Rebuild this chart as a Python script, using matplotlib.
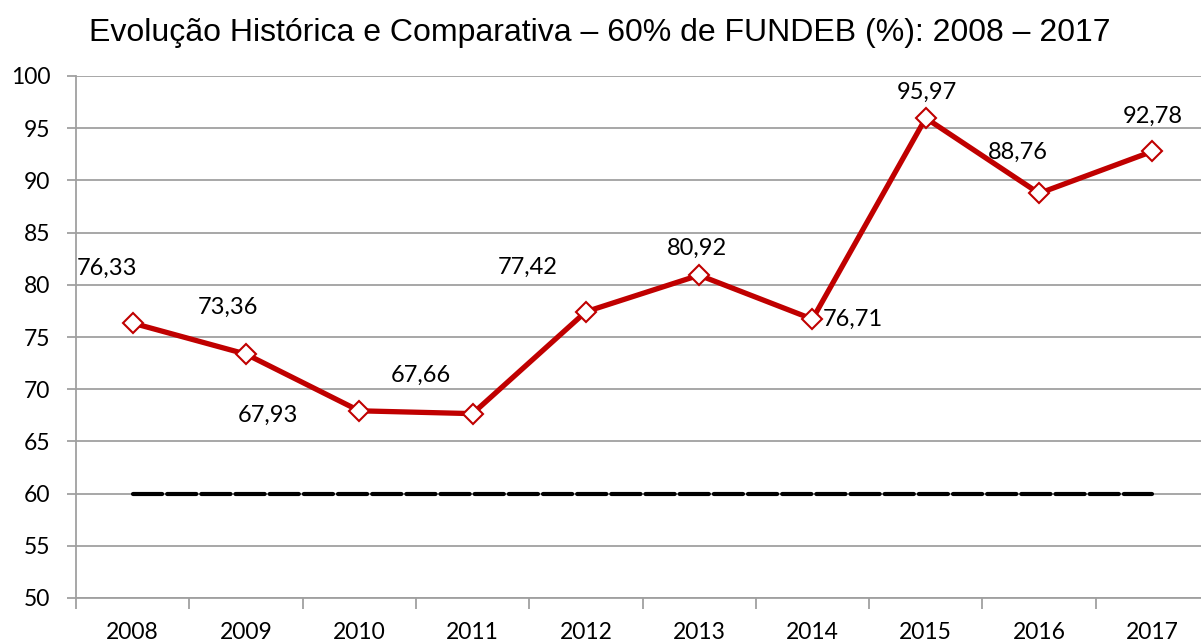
import matplotlib.pyplot as plt
import numpy as np

years = ["2008", "2009", "2010", "2011", "2012", "2013", "2014", "2015", "2016", "2017"]
fundeb = [76.33, 73.36, 67.93, 67.66, 77.42, 80.92, 76.71, 95.97, 88.76, 92.78]
minimo = [60] * len(years)

# label offsets in pixels (dx, dy)
label_offsets = [(-26, 55), (-18, 47), (-91, -5), (-52, 38), (-58, 44),
                 (-2, 27), (40, 0), (1, 26), (-21, 41), (0, 35)]

gray = "#a0a0a0"

fig = plt.figure(figsize=(12.01, 6.42), dpi=100)
ax = fig.add_axes([76 / 1201, 1 - 598 / 642, (1209 - 76) / 1201, (598 - 76) / 642])

xs = np.arange(len(years))
ax.plot(xs, minimo, color="black", lw=3, dashes=(7, 1.2), solid_capstyle="round",
        dash_capstyle="round", zorder=3)
ax.plot(xs, fundeb, color="#c00000", lw=3.8, marker="D", markersize=10,
        markerfacecolor="white", markeredgecolor="#c00000", markeredgewidth=1.5, zorder=4)

for x, v, (dx, dy) in zip(xs, fundeb, label_offsets):
    ax.annotate(f"{v:.2f}".replace(".", ","), (x, v), xytext=(dx, dy),
                textcoords="offset pixels", ha="center", va="center",
                fontsize=17, family="Lato")

ax.set_xlim(-0.5, len(years) - 0.5)
ax.set_ylim(50, 100)
ax.set_yticks(np.arange(50, 101, 5))
ax.yaxis.grid(True, color=gray, lw=1.3)
ax.set_axisbelow(True)

ax.set_xticks(np.arange(-0.5, len(years), 1))
ax.set_xticklabels([])
ax.set_xticks(xs, minor=True)
ax.set_xticklabels(years, minor=True)
ax.tick_params(axis="x", which="major", length=8, width=1.3, color=gray, direction="out")
ax.tick_params(axis="x", which="minor", length=0, pad=17, labelsize=16.5)
ax.tick_params(axis="y", length=6.5, width=1.3, color=gray, labelsize=16.5, pad=12)
for lab in ax.get_xticklabels(minor=True) + ax.get_yticklabels():
    lab.set_family("Lato")

for s in ["top", "right"]:
    ax.spines[s].set_visible(False)
for s in ["left", "bottom"]:
    ax.spines[s].set_color(gray)
    ax.spines[s].set_linewidth(1.3)

fig.text(600 / 1201, 1 - 33 / 642, "Evolução Histórica e Comparativa – 60% de FUNDEB (%): 2008 – 2017",
         ha="center", va="center", fontsize=23, family="Liberation Sans")

fig.savefig("out.png", dpi=100)
